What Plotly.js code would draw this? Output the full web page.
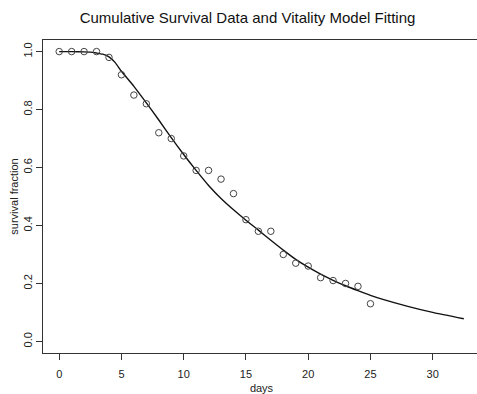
<!DOCTYPE html>
<html>
<head>
<meta charset="utf-8">
<script src="https://cdn.plot.ly/plotly-3.0.1.min.js"></script>
<style>
html,body{margin:0;padding:0;overflow:hidden;background:#fff;}
#chart{width:481px;height:394px;}
</style>
</head>
<body>
<div id="chart"></div>
<script>
// Observed cumulative survival data
const days = [0,1,2,3,4,5,6,7,8,9,10,11,12,13,14,15,16,17,18,19,20,21,22,23,24,25];
const survival = [1.0,1.0,1.0,1.0,0.98,0.92,0.85,0.82,0.72,0.70,0.64,0.59,0.59,0.56,0.51,0.42,0.38,0.38,0.30,0.27,0.26,0.22,0.21,0.20,0.19,0.13];

// Fitted vitality model curve
const fitDays = [0,1,2,2.5,3,3.5,4,4.5,5,6,7,8,9,10,11,12,13,14,15,16,17,18,19,20,21,22,23,24,25,26,28,30,32.5];
const fitSurvival = [1.0,1.0,0.999,0.998,0.995,0.991,0.982,0.962,0.932,0.880,0.823,0.764,0.703,0.645,0.590,0.538,0.493,0.454,0.418,0.384,0.349,0.315,0.283,0.256,0.232,0.211,0.192,0.175,0.159,0.145,0.121,0.100,0.078];

const xTicks = [0,5,10,15,20,25,30];
const yTicks = [0.0,0.2,0.4,0.6,0.8,1.0];
const yTickText = ["0.0","0.2","0.4","0.6","0.8","1.0"];

const font = "Liberation Sans, Arial, Helvetica, sans-serif";

const traces = [
  {
    x: fitDays, y: fitSurvival, type: "scatter", mode: "lines",
    line: {color: "#111", width: 1.4, shape: "spline", smoothing: 0.6},
    hoverinfo: "skip", showlegend: false
  },
  {
    x: days, y: survival, type: "scatter", mode: "markers",
    marker: {symbol: "circle-open", size: 6.5, color: "#444", line: {width: 1, color: "#444"}},
    showlegend: false
  }
];

const layout = {
  width: 481, height: 394,
  margin: {l: 43, r: 1, t: 40, b: 41, pad: 0},
  paper_bgcolor: "#fff", plot_bgcolor: "#fff",
  font: {family: font, size: 11, color: "#222"},
  title: {
    text: "Cumulative Survival Data and Vitality Model Fitting",
    font: {family: font, size: 15, color: "#111"},
    x: 247.5/481, xref: "container", xanchor: "center",
    y: 1 - 17.5/394, yref: "container", yanchor: "middle"
  },
  xaxis: {
    range: [-1.3, 33.8],
    tickvals: xTicks, ticktext: xTicks.map(String),
    showgrid: false, zeroline: false,
    showline: true, mirror: true, linecolor: "#333", linewidth: 1,
    ticks: "outside", ticklen: 6, tickcolor: "#333", tickwidth: 1,
    ticklabelstandoff: 5,
    tickfont: {family: font, size: 11, color: "#222"},
    title: {text: "days", font: {family: font, size: 11, color: "#222"}, standoff: 12}
  },
  yaxis: {
    range: [-0.04, 1.04],
    tickvals: yTicks, ticktext: yTickText, tickangle: -90,
    showgrid: false, zeroline: false,
    showline: true, mirror: true, linecolor: "#333", linewidth: 1,
    ticks: "outside", ticklen: 6, tickcolor: "#333", tickwidth: 1,
    tickfont: {family: font, size: 11, color: "#222"},
    title: {text: "survival fraction", font: {family: font, size: 11, color: "#222"}, standoff: 0}
  }
};

Plotly.newPlot("chart", traces, layout, {displayModeBar: false, staticPlot: true});
</script>
</body>
</html>
